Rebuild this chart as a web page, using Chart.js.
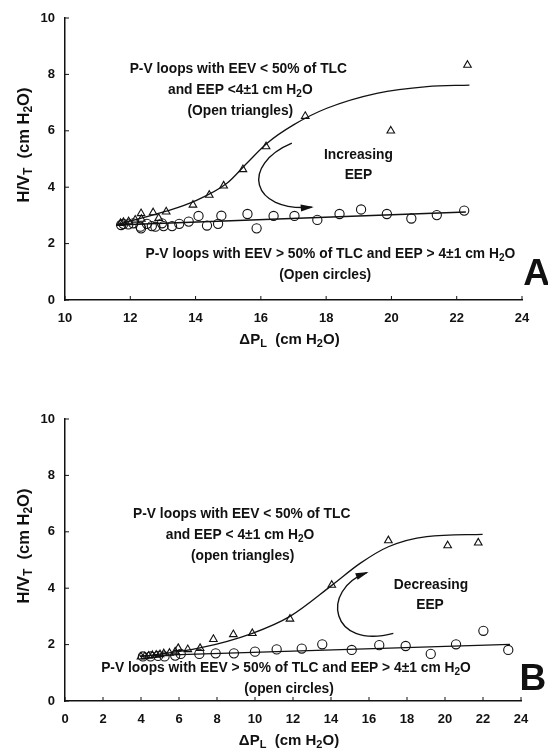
<!DOCTYPE html>
<html>
<head>
<meta charset="utf-8">
<script src="https://cdn.jsdelivr.net/npm/chart.js@4.4.1/dist/chart.umd.min.js"></script>
<style>
  body { margin: 0; background: #fff; }
  .panel { position: absolute; left: 0; width: 548px; height: 376px; }
</style>
</head>
<body>
<div class="panel" style="top:0"><canvas id="chartA" width="548" height="376"></canvas></div>
<div class="panel" style="top:376px"><canvas id="chartB" width="548" height="376"></canvas></div>
<script>
const FONT = '"Liberation Sans", Arial, Helvetica, sans-serif';
const INK = '#111';

// shared tick labels
const yTicks = [0, 2, 4, 6, 8, 10];
const xTicksA = [10, 12, 14, 16, 18, 20, 22, 24];
const xTicksB = [0, 2, 4, 6, 8, 10, 12, 14, 16, 18, 20, 22, 24];

// panel A - open triangles (EEV < 50% TLC)
const triA_x = [11.70, 11.79, 11.95, 12.15, 12.33, 12.34, 12.70, 12.87, 13.10, 13.92, 14.42, 14.86, 15.45, 16.16, 17.36, 19.98, 22.33];
const triA_y = [2.72, 2.76, 2.78, 2.84, 3.07, 2.87, 3.10, 2.90, 3.13, 3.37, 3.72, 4.05, 4.63, 5.44, 6.52, 6.00, 8.33];
// panel A - open circles (EEV > 50% TLC)
const circA_x = [11.72, 11.79, 11.94, 12.09, 12.31, 12.33, 12.51, 12.66, 12.77, 12.97, 13.02, 13.28, 13.50, 13.79, 14.09, 14.35, 14.69, 14.79, 15.59, 15.87, 16.39, 17.03, 17.73, 18.41, 19.07, 19.86, 20.61, 21.39, 22.23];
const circA_y = [2.66, 2.70, 2.68, 2.72, 2.60, 2.54, 2.70, 2.62, 2.60, 2.72, 2.62, 2.62, 2.70, 2.78, 2.98, 2.64, 2.70, 2.99, 3.05, 2.54, 2.98, 2.98, 2.84, 3.05, 3.21, 3.05, 2.89, 3.01, 3.17];
// panel A - drawn fit curves
const fitTriA_x = [11.62, 13.10, 13.94, 14.96, 15.57, 16.19, 17.00, 18.02, 19.55, 21.09, 22.39];
const fitTriA_y = [2.68, 3.15, 3.49, 4.14, 4.85, 5.56, 6.21, 6.80, 7.33, 7.57, 7.62];
const fitCircA_x = [11.59, 22.28];
const fitCircA_y = [2.66, 3.12];

// panel B - open triangles
const triB_x = [4.0, 4.2, 4.4, 4.6, 4.8, 5.0, 5.2, 5.5, 5.8, 5.96, 6.46, 7.11, 7.81, 8.86, 9.86, 11.84, 14.04, 17.02, 20.14, 21.75];
const triB_y = [1.57, 1.58, 1.60, 1.62, 1.63, 1.65, 1.68, 1.70, 1.75, 1.87, 1.83, 1.87, 2.19, 2.36, 2.40, 2.91, 4.11, 5.69, 5.51, 5.61];
// panel B - open circles
const circB_x = [4.1, 4.5, 4.9, 5.24, 5.80, 6.09, 7.07, 7.93, 8.89, 10.0, 11.14, 12.46, 13.54, 15.09, 16.54, 17.93, 19.25, 20.58, 22.02, 23.33];
const circB_y = [1.58, 1.58, 1.60, 1.58, 1.61, 1.67, 1.67, 1.69, 1.69, 1.75, 1.83, 1.86, 2.01, 1.81, 1.98, 1.95, 1.67, 2.01, 2.49, 1.81];
// panel B - drawn fit curves
const fitTriB_x = [3.95, 7.10, 9.86, 11.84, 14.04, 15.53, 17.02, 19.04, 21.98];
const fitTriB_y = [1.57, 1.88, 2.40, 3.00, 4.10, 4.88, 5.47, 5.83, 5.91];
const fitCircB_x = [3.95, 23.42];
const fitCircB_y = [1.60, 2.01];

// annotations (text, data position)
const notesA_text = ['P-V loops with EEV < 50% of TLC', 'and EEP <4\u00b11 cm H_2O', '(Open triangles)', 'Increasing', 'EEP',
  'P-V loops with EEV > 50% of TLC and EEP > 4\u00b11 cm H_2O', '(Open circles)'];
const notesA_x = [15.31, 15.37, 15.37, 18.99, 18.99, 18.13, 17.97];
const notesA_y = [8.19, 7.45, 6.71, 5.14, 4.43, 1.63, 0.89];
const notesB_text = ['P-V loops with EEV < 50% of TLC', 'and EEP < 4\u00b11 cm H_2O', '(open triangles)', 'Decreasing', 'EEP',
  'P-V loops with EEV > 50% of TLC and EEP > 4\u00b11 cm H_2O', '(open circles)'];
const notesB_x = [9.30, 9.21, 9.35, 19.26, 19.21, 11.63, 11.79];
const notesB_y = [6.63, 5.89, 5.15, 4.11, 3.40, 1.16, 0.41];

// curved arrows: start, control 1, control 2, end (data units)
const arrowA = [[16.95, 5.56], [15.37, 4.79], [15.68, 3.12], [17.56, 3.29]];
const arrowB = [[17.28, 2.40], [13.95, 1.81], [13.42, 3.94], [15.88, 4.55]];

const toPts = (xs, ys) => xs.map((x, i) => ({ x, y: ys[i] }));

// text with "_c" meaning subscript c
function drawRich(ctx, str, x, y, size, align) {
  const parts = [];
  for (let i = 0; i < str.length; i++) {
    if (str[i] === '_' && i + 1 < str.length) { parts.push({ t: str[i + 1], sub: true }); i++; }
    else if (parts.length && !parts[parts.length - 1].sub) parts[parts.length - 1].t += str[i];
    else parts.push({ t: str[i], sub: false });
  }
  const fontOf = p => 'bold ' + (p.sub ? Math.round(size * 0.72) : size) + 'px ' + FONT;
  let w = 0;
  parts.forEach(p => { ctx.font = fontOf(p); p.w = ctx.measureText(p.t).width; w += p.w; });
  let cx = align === 'center' ? x - w / 2 : x;
  ctx.textBaseline = 'middle';
  ctx.textAlign = 'left';
  parts.forEach(p => {
    ctx.font = fontOf(p);
    ctx.fillText(p.t, cx, p.sub ? y + size * 0.28 : y);
    cx += p.w;
  });
}

const decor = {
  id: 'decor',
  afterDraw(chart, args, o) {
    const ctx = chart.ctx;
    const xs = chart.scales.x, ys = chart.scales.y;
    const area = chart.chartArea;
    ctx.save();
    ctx.fillStyle = INK;
    ctx.strokeStyle = INK;

    // short ticks pointing into the plot
    ctx.lineWidth = 1;
    ctx.beginPath();
    o.xTicks.forEach(v => { const px = xs.getPixelForValue(v); ctx.moveTo(px, area.bottom); ctx.lineTo(px, area.bottom - 4); });
    yTicks.forEach(v => { const py = ys.getPixelForValue(v); ctx.moveTo(area.left, py); ctx.lineTo(area.left + 4, py); });
    ctx.stroke();

    // axis titles
    drawRich(ctx, '\u0394P_L  (cm H_2O)', (area.left + area.right) / 2 - 4, area.bottom + 40, 15, 'center');
    ctx.save();
    ctx.translate(24, (area.top + area.bottom) / 2 - 14);
    ctx.rotate(-Math.PI / 2);
    drawRich(ctx, 'H/V_T  (cm H_2O)', 0, 0, 16.5, 'center');
    ctx.restore();

    // annotations
    o.text.forEach((t, i) => drawRich(ctx, t, xs.getPixelForValue(o.tx[i]), ys.getPixelForValue(o.ty[i]), 13.8, 'center'));

    // curved arrow
    const p = o.arrow.map(([a, b]) => [xs.getPixelForValue(a), ys.getPixelForValue(b)]);
    ctx.lineWidth = 1.4;
    ctx.beginPath();
    ctx.moveTo(p[0][0], p[0][1]);
    ctx.bezierCurveTo(p[1][0], p[1][1], p[2][0], p[2][1], p[3][0], p[3][1]);
    ctx.stroke();
    const ang = Math.atan2(p[3][1] - p[2][1], p[3][0] - p[2][0]);
    const L = 11, W = 3.5;
    ctx.beginPath();
    ctx.moveTo(p[3][0] + Math.cos(ang) * 2, p[3][1] + Math.sin(ang) * 2);
    ctx.lineTo(p[3][0] - Math.cos(ang) * L - Math.sin(ang) * W, p[3][1] - Math.sin(ang) * L + Math.cos(ang) * W);
    ctx.lineTo(p[3][0] - Math.cos(ang) * L + Math.sin(ang) * W, p[3][1] - Math.sin(ang) * L - Math.cos(ang) * W);
    ctx.closePath();
    ctx.fill();

    // panel letter
    ctx.font = 'bold 37px ' + FONT;
    ctx.textAlign = 'center';
    ctx.textBaseline = 'middle';
    ctx.fillText(o.letter, xs.getPixelForValue(o.lx), ys.getPixelForValue(o.ly) + 2);
    ctx.restore();
  }
};

function makeChart(id, cfg) {
  const tickFont = { family: FONT, size: 13, weight: 'bold' };
  return new Chart(document.getElementById(id), {
    type: 'scatter',
    data: {
      datasets: [
        { data: toPts(cfg.fitTx, cfg.fitTy), showLine: true, pointRadius: 0, borderColor: INK, borderWidth: 1.3, cubicInterpolationMode: 'monotone' },
        { data: toPts(cfg.fitCx, cfg.fitCy), showLine: true, pointRadius: 0, borderColor: INK, borderWidth: 1.3 },
        { data: toPts(cfg.cx, cfg.cy), pointStyle: 'circle', pointRadius: 4.6, borderColor: INK, backgroundColor: 'transparent', borderWidth: 1.1 },
        { data: toPts(cfg.tx, cfg.ty), pointStyle: 'triangle', pointRadius: 4.4, borderColor: INK, backgroundColor: 'transparent', borderWidth: 1.1 }
      ]
    },
    options: {
      responsive: false,
      animation: false,
      layout: { padding: { left: 0, right: cfg.padRight, top: cfg.padTop, bottom: 0 } },
      plugins: {
        legend: { display: false },
        tooltip: { enabled: false },
        decor: { xTicks: cfg.xTicks, text: cfg.text, tx: cfg.textX, ty: cfg.textY, arrow: cfg.arrow, letter: cfg.letter, lx: cfg.lx, ly: cfg.ly }
      },
      scales: {
        x: {
          type: 'linear', min: cfg.xTicks[0], max: cfg.xTicks[cfg.xTicks.length - 1],
          afterBuildTicks: s => { s.ticks = cfg.xTicks.map(v => ({ value: v })); },
          afterFit: s => { s.height = cfg.xHeight; },
          grid: { display: false, drawTicks: false },
          border: { display: true, color: INK, width: 1.5 },
          ticks: { padding: 11, color: INK, font: tickFont, maxRotation: 0, autoSkip: false }
        },
        y: {
          type: 'linear', min: 0, max: 10,
          afterBuildTicks: s => { s.ticks = yTicks.map(v => ({ value: v })); },
          afterFit: s => { s.width = 65; },
          grid: { display: false, drawTicks: false },
          border: { display: true, color: INK, width: 1.5 },
          ticks: { padding: 10, color: INK, font: tickFont, autoSkip: false }
        }
      }
    },
    plugins: [decor]
  });
}

makeChart('chartA', {
  tx: triA_x, ty: triA_y, cx: circA_x, cy: circA_y,
  fitTx: fitTriA_x, fitTy: fitTriA_y, fitCx: fitCircA_x, fitCy: fitCircA_y,
  xTicks: xTicksA, text: notesA_text, textX: notesA_x, textY: notesA_y,
  arrow: arrowA, letter: 'A', lx: 24.45, ly: 0.95,
  padRight: 26, padTop: 18, xHeight: 76
});

makeChart('chartB', {
  tx: triB_x, ty: triB_y, cx: circB_x, cy: circB_y,
  fitTx: fitTriB_x, fitTy: fitTriB_y, fitCx: fitCircB_x, fitCy: fitCircB_y,
  xTicks: xTicksB, text: notesB_text, textX: notesB_x, textY: notesB_y,
  arrow: arrowB, letter: 'B', lx: 24.63, ly: 0.82,
  padRight: 27, padTop: 43, xHeight: 51
});
</script>
</body>
</html>
